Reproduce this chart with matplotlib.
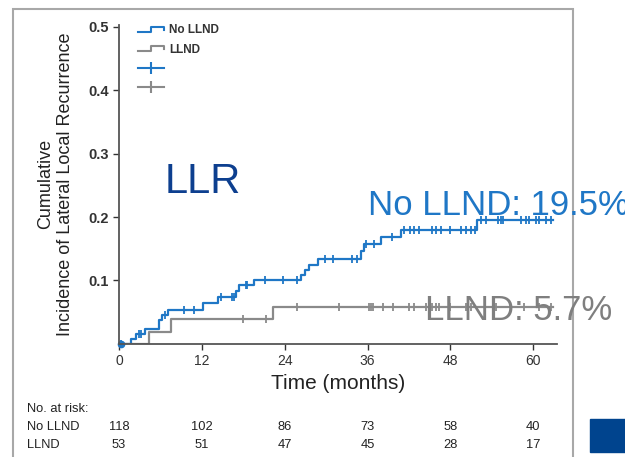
import numpy as np
import matplotlib
matplotlib.use("Agg")
import matplotlib.pyplot as plt
from matplotlib.lines import Line2D
from matplotlib.legend_handler import HandlerBase
from matplotlib.patches import Rectangle
from matplotlib.transforms import blended_transform_factory

# cumulative incidence steps (months, value)
no_llnd_t = [1.7, 2.5, 3.8, 5.8, 6.3, 7.1, 12.2, 14.4, 17.0, 17.4, 19.5, 26.4, 26.9,
             27.5, 28.8, 35.0, 35.5, 38.0, 40.8, 51.8]
no_llnd_y = [0.008, 0.015, 0.023, 0.038, 0.045, 0.054, 0.064, 0.074, 0.083, 0.092, 0.101,
             0.109, 0.116, 0.124, 0.134, 0.146, 0.157, 0.168, 0.180, 0.195]
no_llnd_censor = [0.3, 2.9, 3.2, 6.6, 9.4, 10.9, 14.8, 16.4, 16.6, 18.4, 18.6, 21.1, 23.7,
                  25.8, 29.8, 31.0, 33.7, 34.5, 35.8, 36.9, 39.6, 41.3, 42.2, 42.8, 43.5,
                  45.4, 45.9, 46.6, 47.9, 49.5, 50.3, 51.0, 51.5, 52.4, 53.2, 54.9, 55.4,
                  55.6, 58.3, 59.0, 59.4, 60.4, 60.9, 61.8, 62.6]
no_llnd_end = 62.8

llnd_t = [4.4, 7.6, 22.3]
llnd_y = [0.019, 0.0385, 0.058]
llnd_censor = [17.9, 21.3, 25.8, 31.9, 36.2, 36.5, 36.8, 38.2, 39.7, 42.0, 42.8,
               44.5, 45.0, 45.4, 45.9, 46.4, 47.9, 50.3, 51.0, 54.6, 58.7, 60.9, 62.6]
llnd_end = 62.8

risk_times = [0, 12, 24, 36, 48, 60]
risk_no_llnd = [118, 102, 86, 73, 58, 40]
risk_llnd = [53, 51, 47, 45, 28, 17]

blue = "#1f77c6"
grey = "#8a8a8a"
plt.rcParams["font.family"] = ["Liberation Sans", "DejaVu Sans"]


def step_xy(t, y, end):
    xs = [0] + list(t) + [end]
    ys = [0] + list(y) + [y[-1]]
    return xs, ys


def value_at(t, y, times):
    idx = np.searchsorted(t, times, side="right")
    vals = np.concatenate([[0], y])
    return vals[idx]


class StepHandler(HandlerBase):
    def create_artists(self, legend, orig, xd, yd, w, h, fs, trans):
        xs = [xd, xd + w * 0.5, xd + w * 0.5, xd + w, xd + w]
        ys = [yd + h * 0.2, yd + h * 0.2, yd + h * 0.75, yd + h * 0.75, yd + h * 0.4]
        ln = Line2D(xs, ys, color=orig.get_color(), lw=1.5, transform=trans)
        return [ln]


fig = plt.figure(figsize=(6.25, 4.57), dpi=100)
ax = fig.add_axes([0.1904, 0.2478, 0.7003, 0.6975])

x, y = step_xy(no_llnd_t, no_llnd_y, no_llnd_end)
h1, = ax.step(x, y, where="post", color=blue, lw=1.6)
x, y = step_xy(llnd_t, llnd_y, llnd_end)
h2, = ax.step(x, y, where="post", color=grey, lw=1.6)

ax.plot(no_llnd_censor, value_at(no_llnd_t, no_llnd_y, no_llnd_censor), ls="none",
        marker="|", ms=6, mew=1.3, color=blue)
ax.plot(llnd_censor, value_at(llnd_t, llnd_y, llnd_censor), ls="none",
        marker="|", ms=6, mew=1.3, color=grey)
ax.plot([0.3], [0], ls="none", marker="o", ms=4.5, color=blue, clip_on=False)

ax.set_xlim(0, 63.4)
ax.set_ylim(0, 0.503)
ax.set_xticks(risk_times)
ax.set_yticks([0.1, 0.2, 0.3, 0.4, 0.5])
ax.set_yticklabels(["0.1", "0.2", "0.3", "0.4", "0.5"], fontweight="bold")
ax.tick_params(colors="#333333", labelsize=10, length=4, width=1)
ax.tick_params(axis="y", labelsize=10.5)
for s in ["top", "right"]:
    ax.spines[s].set_visible(False)
for s in ["left", "bottom"]:
    ax.spines[s].set_color("#555555")
    ax.spines[s].set_linewidth(1.3)

ax.set_xlabel("Time (months)", fontsize=15, color="#222222", labelpad=4)
ax.set_ylabel("Cumulative\nIncidence of Lateral Local Recurrence", fontsize=13,
              color="#222222", labelpad=10)

p1 = Line2D([], [], color=blue, marker="|", ls="-", ms=9, mew=1.5)
p2 = Line2D([], [], color=grey, marker="|", ls="-", ms=9, mew=1.5)
ax.legend([h1, h2, p1, p2], ["No LLND", "LLND", "", ""], loc="upper left",
          bbox_to_anchor=(0.02, 1.035), frameon=False, fontsize=8.5,
          handlelength=2.2, handletextpad=0.4, labelspacing=0.6,
          handler_map={h1: StepHandler(), h2: StepHandler()})
leg = ax.get_legend()
for t in leg.get_texts():
    t.set_color("#333333")
    t.set_fontweight("bold")

# at-risk table
row_y = [1 - 409 / 457, 1 - 427 / 457, 1 - 445 / 457]
tkw = dict(fontsize=9.3, va="center", color="#222222")
fig.text(27 / 625, row_y[0], "No. at risk:", **tkw)
fig.text(27 / 625, row_y[1], "No LLND", **tkw)
fig.text(27 / 625, row_y[2], "LLND", **tkw)
tr = blended_transform_factory(ax.transData, fig.transFigure)
for tm, a, b in zip(risk_times, risk_no_llnd, risk_llnd):
    ax.text(tm, row_y[1], str(a), transform=tr, ha="center", clip_on=False, **tkw)
    ax.text(tm, row_y[2], str(b), transform=tr, ha="center", clip_on=False, **tkw)

# slide overlay text
fig.text(165 / 625, 1 - 193 / 457, "LLR", fontsize=30, color="#0d3f8f")
fig.text(368 / 625, 1 - 215 / 457, "No LLND: 19.5%", fontsize=25, color=blue)
fig.text(425 / 625, 1 - 320 / 457, "LLND: 5.7%", fontsize=25, color="#7f7f7f")

fig.patches.append(Rectangle((13 / 625, -0.05), 560 / 625, 1.05 - 8.5 / 457,
                             transform=fig.transFigure, fill=False, ec="#a8a8a8", lw=1.5))
fig.patches.append(Rectangle((590 / 625, 1 - 452 / 457), 40 / 625, 33 / 457,
                             transform=fig.transFigure, color="#00448e"))

fig.savefig("out.png", dpi=100)
